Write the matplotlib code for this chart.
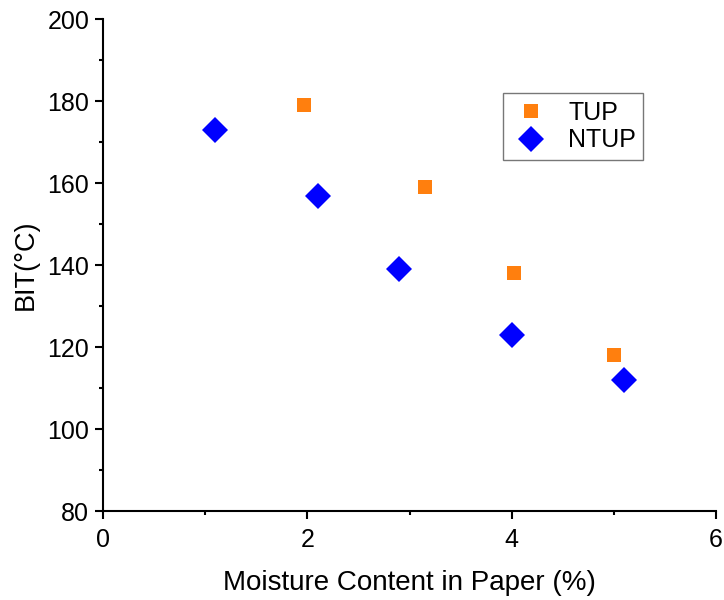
import matplotlib
matplotlib.use("Agg")
import matplotlib.pyplot as plt
from matplotlib.ticker import MultipleLocator

plt.rcParams['font.family'] = ['Liberation Sans', 'DejaVu Sans']

# moisture content (%) vs breakdown initiation temperature (°C)
tup_x = [1.97, 3.15, 4.02, 5.0]
tup_y = [179, 159, 138, 118]
ntup_x = [1.1, 2.1, 2.9, 4.0, 5.1]
ntup_y = [173, 157, 139, 123, 112]

fig = plt.figure(figsize=(7.24, 6), dpi=100)
ax = fig.add_axes([0.1423, 0.148, 0.8467, 0.82])

ax.plot(tup_x, tup_y, 's', color='#ff7f0e', markersize=9.5, markeredgewidth=0,
        linestyle='none', label='TUP', clip_on=False)
ax.plot(ntup_x, ntup_y, 'D', color='#0000ff', markersize=13, markeredgewidth=0,
        linestyle='none', label='NTUP', clip_on=False)

ax.set_xlim(0, 6)
ax.set_ylim(80, 200)
ax.xaxis.set_major_locator(MultipleLocator(2))
ax.xaxis.set_minor_locator(MultipleLocator(1))
ax.yaxis.set_major_locator(MultipleLocator(20))
ax.yaxis.set_minor_locator(MultipleLocator(10))

for side in ('top', 'right'):
    ax.spines[side].set_visible(False)
for side in ('left', 'bottom'):
    ax.spines[side].set_linewidth(1.5)

ax.tick_params(which='major', direction='out', length=6, width=1.5,
               labelsize=18, pad=4)
ax.tick_params(axis='x', which='major', pad=6)
ax.tick_params(which='minor', direction='out', length=3, width=1.5)

ax.set_xlabel('Moisture Content in Paper (%)', fontsize=20, labelpad=13)
ax.set_ylabel('BIT(°C)', fontsize=19.5, labelpad=6)

leg = ax.legend(loc='upper left', bbox_to_anchor=(0.6525, 0.85), fontsize=18,
                frameon=True, fancybox=False, edgecolor='#555555',
                handletextpad=0.7, borderpad=0.3, labelspacing=0.15,
                handlelength=1.6, borderaxespad=0)
leg.get_frame().set_linewidth(1.0)

fig.savefig('out.png', dpi=100)
